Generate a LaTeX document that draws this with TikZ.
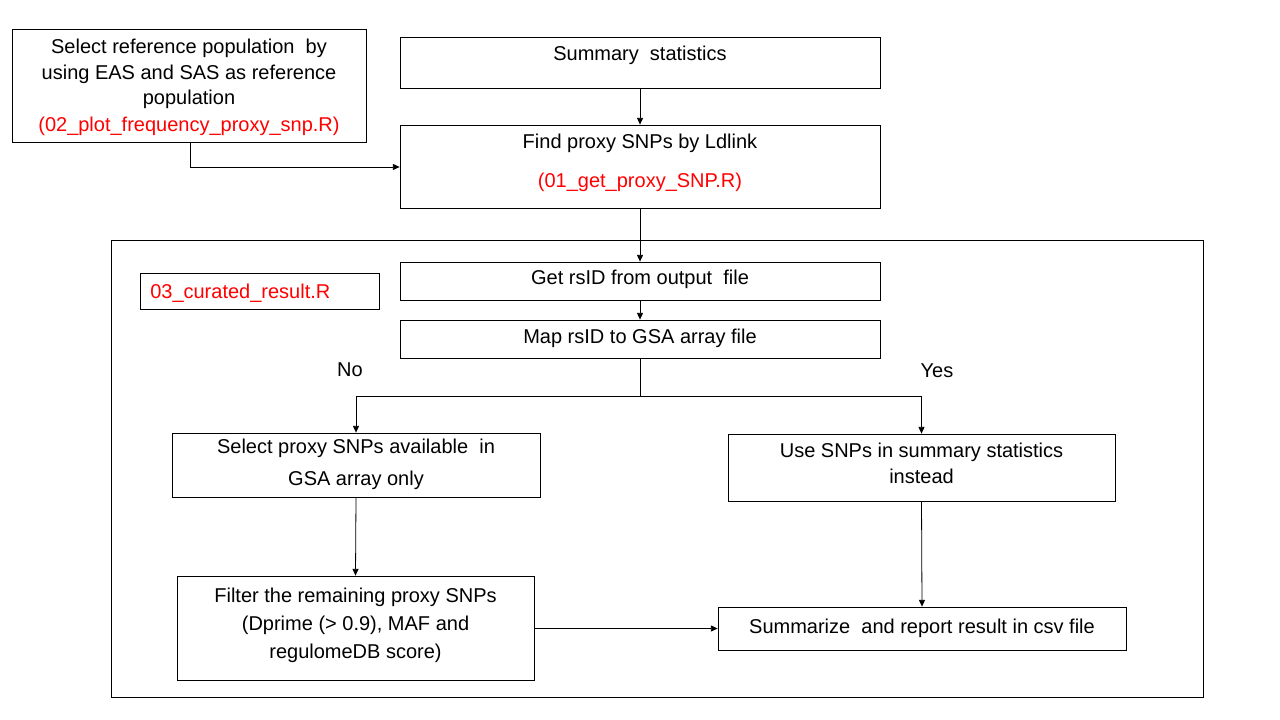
\documentclass[tikz,border=0pt]{standalone}
\usepackage{fontspec}
\setmainfont{Liberation Sans}
\usepackage{xcolor}
\definecolor{ink}{HTML}{000000}
\definecolor{code}{HTML}{FF0000}
\usetikzlibrary{positioning,arrows.meta}
\def\pxu{0.75pt}

\begin{document}
\begin{tikzpicture}[
  x=0.75pt,y=-0.75pt,
  font=\fontsize{15}{19}\selectfont,
  box/.style={draw=ink,line width=0.6pt,inner sep=0pt},
  txt/.style={align=center,inner sep=0pt,text=ink},
  redtxt/.style={align=center,inner sep=0pt,text=code},
  arrow/.style={-{Triangle[length=5pt,width=4.5pt]},line width=0.6pt,ink}
]
\useasboundingbox (0,0) rectangle (1280,720);

% top part
\node[box,minimum width=354*\pxu,minimum height=113*\pxu] (refpop) at (189,85.5) {};
\node[txt] at (189,74) {Select reference population\ \ by\\using EAS and SAS as reference\\population};
\node[redtxt] at (189,126) {(02\_plot\_frequency\_proxy\_snp.R)};

\node[box,minimum width=480*\pxu,minimum height=51*\pxu] (summary) at (640,62.5) {};
\node[txt] at (640,55) {Summary\ \ statistics};

\node[box,minimum width=480*\pxu,minimum height=83*\pxu] (proxy) at (640,166.5) {};
\node[txt] at (640,143) {Find proxy SNPs by Ldlink};
\node[redtxt] at (640,182) {(01\_get\_proxy\_SNP.R)};

% curation frame
\node[box,minimum width=1092*\pxu,minimum height=457*\pxu] (frame) at (657,468.5) {};
\node[box,minimum width=239*\pxu,minimum height=36*\pxu] (script) at (259.5,291) {};
\node[redtxt,anchor=west] at (150,293) {03\_curated\_result.R};

\node[box,minimum width=480*\pxu,minimum height=38*\pxu] (getid) at (640,281) {};
\node[txt] at (640,279) {Get rsID from output\ \ file};

\node[box,minimum width=480*\pxu,minimum height=38*\pxu] (mapid) at (640,339) {};
\node[txt] at (640,338) {Map rsID to GSA array file};

\node[txt] at (350,370) {No};
\node[txt] at (937,371) {Yes};
\coordinate (split) at (640,396);

\node[box,minimum width=368*\pxu,minimum height=64*\pxu] (select) at (356,465) {};
\node[txt] at (356,448) {Select proxy SNPs available\ \ in};
\node[txt] at (356,480) {GSA array only};

\node[box,minimum width=387*\pxu,minimum height=67*\pxu] (usesnp) at (921.5,467.5) {};
\node[txt] at (921.5,463.5) {Use SNPs in summary statistics\\instead};

\node[box,minimum width=357*\pxu,minimum height=104*\pxu] (filter) at (355.5,628) {};
\node[txt,font=\fontsize{15}{21}\selectfont] at (355.5,625) {Filter the remaining proxy SNPs\\(Dprime (> 0.9), MAF and\\regulomeDB score)};

\node[box,minimum width=408*\pxu,minimum height=43*\pxu] (report) at (922,628.5) {};
\node[txt] at (922,628) {Summarize\ \ and report result in csv file};

% connectors
\draw[arrow] (refpop.south -| 190,0) |- (proxy.west |- 0,167);
\draw[arrow] (summary) -- (proxy);
\draw[arrow] (proxy) -- (getid);
\draw[arrow] (getid) -- (mapid);
\draw[line width=0.6pt,ink] (mapid.south) -- (split);
\draw[arrow] (split) -| (select.north);
\draw[arrow] (split) -| (usesnp.north);
\draw[arrow] (select.south) -- (filter.north);
\draw[arrow] (usesnp.south) -- (report.north);
\draw[arrow] (filter.east |- report.west) -- (report.west);

\end{tikzpicture}
\end{document}
